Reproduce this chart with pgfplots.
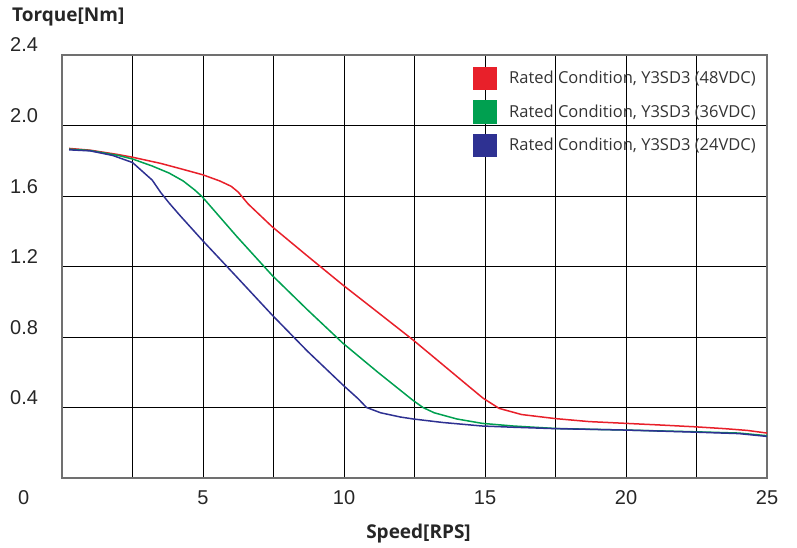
\documentclass[border=0pt]{standalone}
\usepackage{pgfplots}
\pgfplotsset{compat=1.18}
\usetikzlibrary{calc}
\usepackage{fontspec}
\setmainfont{Liberation Sans}
\newfontfamily\osans{Open Sans}
\definecolor{cred}{HTML}{E8202A}
\definecolor{cgreen}{HTML}{00A050}
\definecolor{cblue}{HTML}{2E3192}
\definecolor{frame}{HTML}{707070}
\begin{document}
\begin{tikzpicture}
\begin{axis}[
  scale only axis, width=705pt, height=423pt,
  xmin=0, xmax=25, ymin=0, ymax=2.4,
  xtick={0,2.5,...,25}, ytick={0,0.4,...,2.4},
  xticklabels={,,5,,10,,15,,20,,25},
  yticklabels={,0.4,0.8,1.2,1.6,2.0,2.4},
  major tick length=0pt,
  grid=major, grid style={black, line width=0.9pt},
  axis line style={frame, line width=1.6pt},
  tick label style={font=\fontsize{20}{24}\selectfont, text=black!85},
  xticklabel style={anchor=base, yshift=-26pt, inner sep=0pt},
  yticklabel style={anchor=base west, xshift=-52pt, yshift=3pt, inner sep=0pt},
  clip=false,
  legend style={draw=none, fill=none, at={(rel axis cs:0.578,0.978)}, anchor=north west,
    font=\osans\fontsize{16.5}{19}\selectfont, text=black!80, row sep=10pt,
    /tikz/every odd column/.append style={column sep=10pt}},
  legend cell align=left,
  legend image code/.code={\fill[#1] (0pt,-11pt) rectangle (23pt,11pt);},
  every axis plot/.append style={line width=1.5pt},
]
\addplot[cred] coordinates {(0.25,1.870)(1,1.86)(2,1.835)(2.5,1.82)(3.5,1.785)(4.2,1.755)(5,1.72)(5.6,1.685)(6.0,1.655)(6.25,1.622)(6.6,1.555)(7.45,1.426)(8.7,1.26)(9.96,1.095)(11.2,0.94)(12.45,0.783)(13.6,0.63)(14.5,0.51)(14.93,0.453)(15.5,0.395)(16.3,0.36)(17.5,0.337)(18.7,0.32)(20,0.31)(21.3,0.30)(22.5,0.29)(23.5,0.28)(24.3,0.27)(25,0.255)};
\addlegendentry{Rated Condition, Y3SD3 (48VDC)}
\addplot[cgreen] coordinates {(0.25,1.866)(1,1.858)(2,1.83)(2.5,1.81)(3.2,1.77)(3.8,1.73)(4.3,1.685)(4.7,1.635)(4.97,1.596)(6.2,1.37)(7.45,1.15)(8.7,0.955)(9.96,0.765)(11.2,0.60)(12.45,0.44)(12.8,0.40)(13.2,0.37)(14,0.335)(14.9,0.31)(16,0.295)(17.5,0.281)(20,0.272)(22.5,0.262)(24,0.255)(25,0.24)};
\addlegendentry{Rated Condition, Y3SD3 (36VDC)}
\addplot[cblue] coordinates {(0.25,1.862)(1,1.856)(1.8,1.83)(2.5,1.79)(3.2,1.69)(3.5,1.62)(3.8,1.56)(4.18,1.49)(4.97,1.35)(6.2,1.14)(7.45,0.925)(8.7,0.72)(9.96,0.528)(10.5,0.45)(10.8,0.40)(11.3,0.37)(12,0.346)(12.45,0.335)(13.5,0.315)(14.9,0.295)(16,0.288)(17.5,0.28)(20,0.272)(22.5,0.26)(24,0.252)(25,0.236)};
\addlegendentry{Rated Condition, Y3SD3 (24VDC)}
\coordinate (sw) at (rel axis cs:0,0);
\coordinate (ne) at (rel axis cs:1,1);
\end{axis}
\node[anchor=base west, inner sep=0pt, font=\fontsize{20}{24}\selectfont, text=black!85] at ([xshift=-44pt,yshift=-26pt]sw) {0};
\node[anchor=base west, inner sep=0pt, font=\osans\bfseries\fontsize{19}{22}\selectfont, text=black!85] at ([xshift=-50pt,yshift=33pt]sw|-ne) {Torque[Nm]};
\path (sw) -- (sw-|ne) coordinate[pos=0.5] (bm);
\node[anchor=base, inner sep=0pt, font=\osans\bfseries\fontsize{19}{22}\selectfont, text=black!85] at ([xshift=4pt,yshift=-60pt]bm) {Speed[RPS]};
\pgfresetboundingbox
\path[use as bounding box] ([xshift=-62pt,yshift=-69pt]sw) rectangle ([xshift=30pt,yshift=55pt]ne);
\end{tikzpicture}
\end{document}
